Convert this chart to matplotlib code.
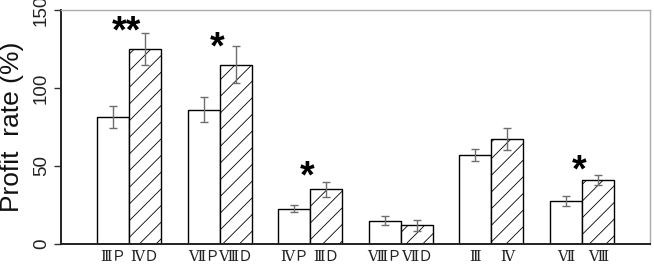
import matplotlib
matplotlib.use("Agg")
import matplotlib.pyplot as plt
import numpy as np

# ---- data ----
p_labels = ["ⅢＰ", "ⅦＰ", "ⅣＰ", "ⅧＰ", "Ⅲ", "Ⅶ"]
d_labels = ["ⅣＤ", "ⅧＤ", "ⅢＤ", "ⅦＤ", "Ⅳ", "Ⅷ"]
p_values = [81.5, 86, 22.5, 15, 57, 27.5]
p_errors = [7, 8, 2.2, 3, 4, 3]
d_values = [125, 115, 35, 12, 67.5, 41]
d_errors = [10, 12, 5, 3.4, 7, 3]
star_text = ["**", "*", "*", "", "", "*"]
star_y = [129, 119, 36, 0, 0, 40]

plt.rcParams["hatch.linewidth"] = 0.6
plt.rcParams["hatch.color"] = "#555555"

fig = plt.figure(figsize=(6.54, 2.76), dpi=100)
ax = fig.add_axes([61 / 654, 1 - 244 / 276, (650 - 61) / 654, (244 - 10) / 276])

x = np.arange(len(p_values))
w = 0.353
ekw = dict(ecolor="#6e6e6e", elinewidth=1.0, capsize=2.9, capthick=1.0)

ax.bar(x - w / 2, p_values, w, color="white", edgecolor="black", linewidth=1.0,
       yerr=p_errors, error_kw=ekw, zorder=2)
ax.bar(x + w / 2, d_values, w, color="white", edgecolor="black", linewidth=1.0,
       hatch="//", yerr=d_errors, error_kw=ekw, zorder=2)

for i, (s, yy) in enumerate(zip(star_text, star_y)):
    if s:
        ax.text(i - 0.03, yy, s, ha="center", va="baseline", fontsize=27,
                fontweight="bold", family="Liberation Sans")

ax.set_xlim(-0.75, 5.75)
ax.set_ylim(0, 150)

ticks = np.concatenate([x - w / 2, x + w / 2])
labels = p_labels + d_labels
ax.set_xticks(ticks)
ax.set_xticklabels(labels, family=["DejaVu Serif", "Noto Sans CJK JP", "DejaVu Sans"],
                   fontsize=10.5, color="#222222")
ax.tick_params(axis="x", length=0, pad=4)

ax.set_yticks([0, 50, 100, 150])
ax.set_yticklabels(["0", "50", "100", "150"], rotation=90, va="center",
                   family="Liberation Sans", fontsize=13.5, color="#222222")
ax.tick_params(axis="y", length=5, width=1.0, color="#333333", pad=3)

ax.set_ylabel("Profit  rate (%)", family="Liberation Sans", fontsize=19,
              color="#111111")
ax.yaxis.set_label_coords(-37 / 589, 0.5)

for side in ["left", "bottom"]:
    ax.spines[side].set_color("#222222")
    ax.spines[side].set_linewidth(1.4)
for side in ["top", "right"]:
    ax.spines[side].set_color("#aaaaaa")
    ax.spines[side].set_linewidth(1.0)

fig.savefig("out.png", dpi=100)
